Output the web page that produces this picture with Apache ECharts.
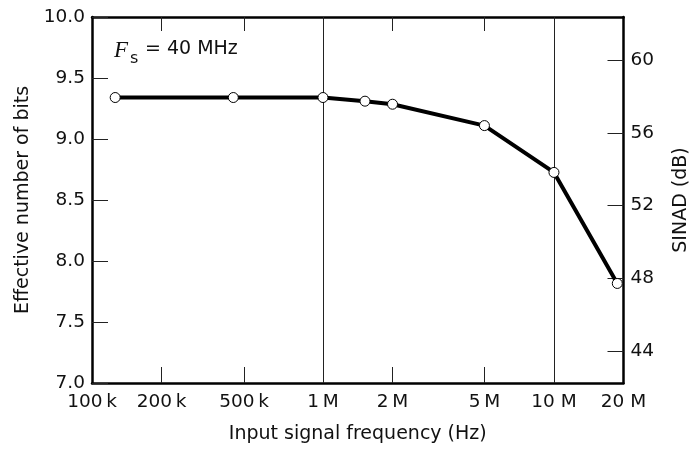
<!DOCTYPE html>
<html>
<head>
<meta charset="utf-8">
<script src="https://cdn.jsdelivr.net/npm/echarts@6/dist/echarts.min.js"></script>
<style>html,body{margin:0;padding:0;background:#fff}#c{width:693px;height:449px}</style>
</head>
<body>
<div id="c"></div>
<script>
// ---- data ----
const freqHz = [1.26e5, 4.09e5, 1.0e6, 1.52e6, 2.0e6, 5.0e6, 1.0e7, 1.88e7];
const enob = [9.34, 9.34, 9.34, 9.31, 9.285, 9.11, 8.726, 7.816];
const xTickHz = [1e5, 2e5, 4.55e5, 1e6, 2e6, 5e6, 1e7, 2e7];
const xTickLabels = ['100\u2009k', '200\u2009k', '500\u2009k', '1\u2009M', '2\u2009M', '5\u2009M', '10 M', '20 M'];
const xMinorTickHz = [2e5, 4.55e5, 2e6, 5e6];
const xGridHz = [1e6, 1e7];
const xRangeHz = [1e5, 2e7];
const enobRange = [7, 10];
const sinadTicks = [44, 48, 52, 56, 60];
const sinadRange = [42.26, 62.36];

const L = Math.log10;
const FONT = 'DejaVu Sans';
const chart = echarts.init(document.getElementById('c'), null, {renderer: 'canvas'});

function xLabel(v) {
  let best = 0, bd = 1e9;
  xTickHz.forEach((t, i) => { const d = Math.abs(L(t) - v); if (d < bd) { bd = d; best = i; } });
  return xTickLabels[best];
}

const axisLineStyle = {color: '#000', width: 2.5};
const tickStyle = {color: '#222', width: 1};

chart.setOption({
  animation: false,
  grid: {left: 92, right: 69.5, top: 17, bottom: 66, containLabel: false, outerBoundsMode: 'none'},
  xAxis: [{
    type: 'value', position: 'bottom',
    min: L(xRangeHz[0]), max: L(xRangeHz[1]),
    name: 'Input signal frequency (Hz)', nameLocation: 'middle', nameGap: 42,
    nameTextStyle: {fontFamily: FONT, fontSize: 19, color: '#111'},
    axisLine: {show: true, onZero: false, lineStyle: axisLineStyle},
    axisTick: {show: true, inside: true, length: 16, customValues: xMinorTickHz.map(L), lineStyle: tickStyle},
    axisLabel: {show: true, customValues: xTickHz.map(L), formatter: v => xLabel(v), margin: 10,
      fontFamily: FONT, fontSize: 18.5, color: '#111'},
    splitLine: {show: false}
  }, {
    type: 'value', position: 'top',
    min: L(xRangeHz[0]), max: L(xRangeHz[1]),
    axisLine: {show: true, onZero: false, lineStyle: axisLineStyle},
    axisTick: {show: true, inside: true, length: 14, customValues: xMinorTickHz.map(L), lineStyle: tickStyle},
    axisLabel: {show: false},
    splitLine: {show: false}
  }],
  yAxis: [{
    type: 'value', position: 'left',
    min: enobRange[0], max: enobRange[1], interval: 0.5,
    name: 'Effective number of bits', nameLocation: 'middle', nameGap: 54, nameRotate: 90,
    nameTextStyle: {fontFamily: FONT, fontSize: 19, color: '#111'},
    axisLine: {show: true, onZero: false, lineStyle: axisLineStyle},
    axisTick: {show: true, inside: true, length: 16, lineStyle: tickStyle},
    axisLabel: {formatter: v => v.toFixed(1), margin: 7, fontFamily: FONT, fontSize: 18.5, color: '#111'},
    splitLine: {show: false}
  }, {
    type: 'value', position: 'right',
    min: sinadRange[0], max: sinadRange[1],
    name: 'SINAD (dB)', nameLocation: 'middle', nameGap: 48, nameRotate: 90,
    nameTextStyle: {fontFamily: FONT, fontSize: 19, color: '#111'},
    axisLine: {show: true, onZero: false, lineStyle: axisLineStyle},
    axisTick: {show: true, inside: true, length: 16, customValues: sinadTicks, lineStyle: tickStyle},
    axisLabel: {customValues: sinadTicks, margin: 7, fontFamily: FONT, fontSize: 18.5, color: '#111'},
    splitLine: {show: false}
  }],
  series: [{
    type: 'line',
    xAxisIndex: 0, yAxisIndex: 0,
    data: freqHz.map((f, i) => [L(f), enob[i]]),
    symbol: 'circle', symbolSize: 10,
    lineStyle: {color: '#000', width: 4},
    itemStyle: {color: '#fff', borderColor: '#000', borderWidth: 1},
    z: 5,
    markLine: {
      silent: true, symbol: 'none', label: {show: false},
      lineStyle: {color: '#222', width: 1, type: 'solid'},
      data: xGridHz.map(f => ({xAxis: L(f)}))
    }
  }],
  graphic: [
    {type: 'text', left: 114, top: 39, style: {text: 'F', font: 'italic 23px "Liberation Serif"', fill: '#111'}},
    {type: 'text', left: 130, top: 51, style: {text: 's', font: '16px "DejaVu Sans"', fill: '#111'}},
    {type: 'text', left: 145, top: 40, style: {text: '= 40 MHz', font: '19px "DejaVu Sans"', fill: '#111'}}
  ]
});
</script>
</body>
</html>
